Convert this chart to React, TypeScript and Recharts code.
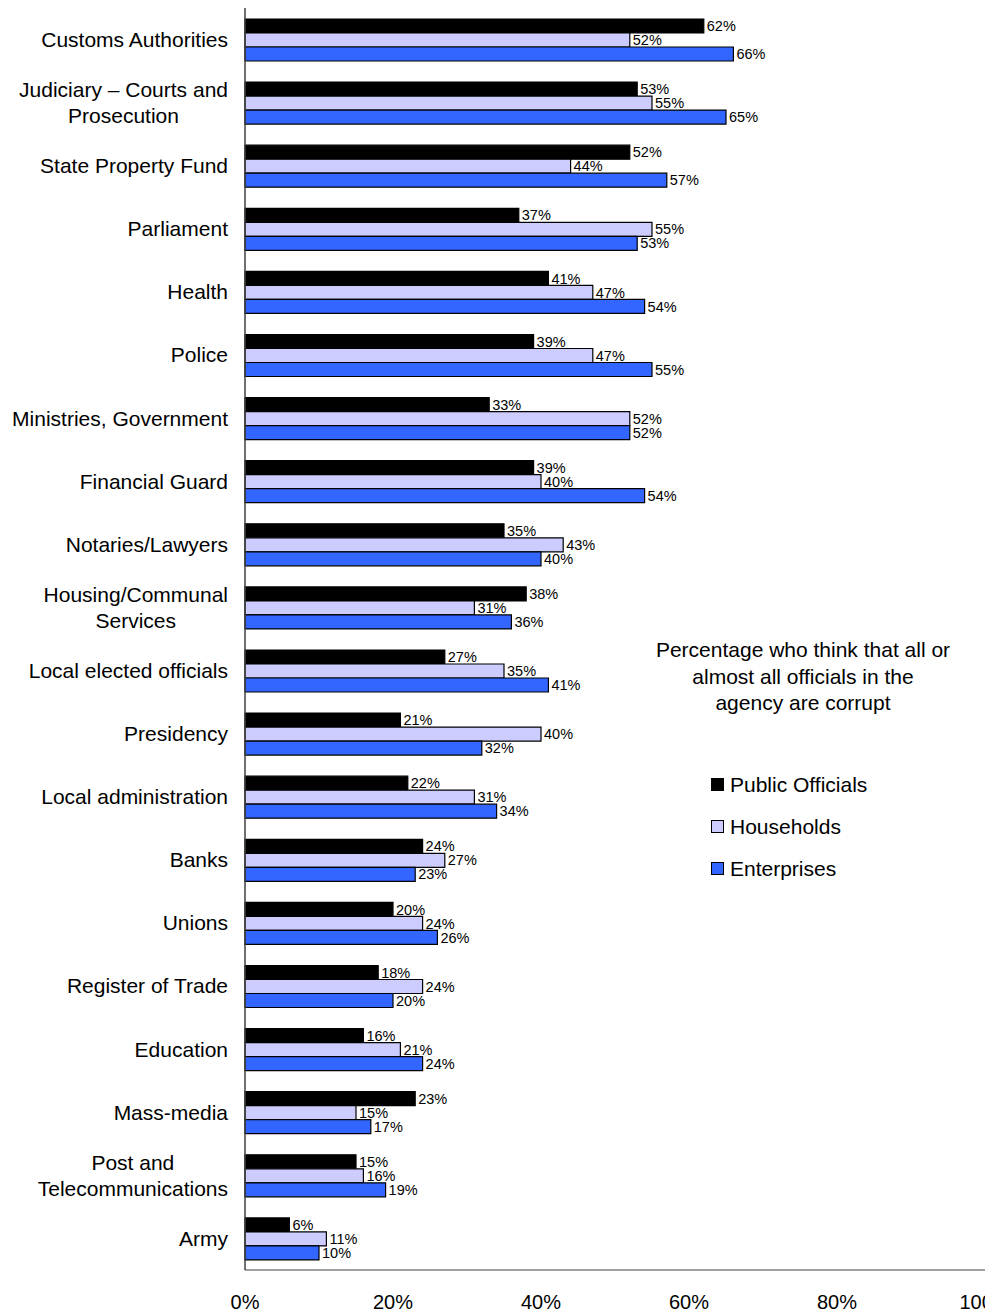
import React from 'react';
import { BarChart, Bar, XAxis, YAxis, Legend, LabelList } from 'recharts';

const categories = [
  'Customs Authorities',
  'Judiciary – Courts and\nProsecution',
  'State Property Fund',
  'Parliament',
  'Health',
  'Police',
  'Ministries, Government',
  'Financial Guard',
  'Notaries/Lawyers',
  'Housing/Communal\nServices',
  'Local elected officials',
  'Presidency',
  'Local administration',
  'Banks',
  'Unions',
  'Register of Trade',
  'Education',
  'Mass-media',
  'Post and\nTelecommunications',
  'Army',
];
const publicOfficials = [62, 53, 52, 37, 41, 39, 33, 39, 35, 38, 27, 21, 22, 24, 20, 18, 16, 23, 15, 6];
const households = [52, 55, 44, 55, 47, 47, 52, 40, 43, 31, 35, 40, 31, 27, 24, 24, 21, 15, 16, 11];
const enterprises = [66, 65, 57, 53, 54, 55, 52, 54, 40, 36, 41, 32, 34, 23, 26, 20, 24, 17, 19, 10];
const xTicks = [0, 20, 40, 60, 80, 100];
const seriesNames = ['Public Officials', 'Households', 'Enterprises'];
const seriesColors = ['#000000', '#CCCCFF', '#3366FF'];
const legendTitle = ['Percentage who think that all or', 'almost all officials in the', 'agency are corrupt'];

const data = categories.map((c, i) => ({
  name: c,
  po: publicOfficials[i],
  hh: households[i],
  en: enterprises[i],
}));

const FONT = '"Liberation Sans", Arial, sans-serif';
let ctx: CanvasRenderingContext2D | null = null;
function measure(t: string, size: number) {
  if (!ctx && typeof document !== 'undefined') {
    ctx = document.createElement('canvas').getContext('2d');
  }
  if (!ctx) return t.length * size * 0.5;
  ctx.font = `${size}px "Liberation Sans"`;
  return ctx.measureText(t).width;
}

const CatTick = (props: any) => {
  const { x, y, payload } = props;
  const lines: string[] = String(payload.value).split('\n');
  const size = 21;
  if (lines.length === 1) {
    return (
      <text x={x} y={y} dy="0.35em" textAnchor="end" fontSize={size} fontFamily={FONT} fill="#000">
        {lines[0]}
      </text>
    );
  }
  const w = Math.max(...lines.map((l) => measure(l, size)));
  const cx = x - w / 2;
  const lh = 26;
  const startY = y - ((lines.length - 1) * lh) / 2;
  return (
    <text textAnchor="middle" fontSize={size} fontFamily={FONT} fill="#000">
      {lines.map((l, i) => (
        <tspan key={i} x={cx} y={startY + i * lh} dy="0.35em">
          {l}
        </tspan>
      ))}
    </text>
  );
};

const LegendContent = () => (
  <div style={{ width: 340, fontFamily: FONT, fontSize: 21, color: '#000' }}>
    <div style={{ textAlign: 'center', lineHeight: '26.5px' }}>
      {legendTitle.map((t, i) => (
        <div key={i}>{t}</div>
      ))}
    </div>
    <div style={{ marginTop: 47, paddingLeft: 78 }}>
      {seriesNames.map((n, i) => (
        <div key={n} style={{ display: 'flex', alignItems: 'center', height: 42 }}>
          <div
            style={{
              width: 13,
              height: 13,
              boxSizing: 'border-box',
              border: '1.5px solid #000',
              background: seriesColors[i],
              marginRight: 6,
            }}
          />
          <span>{n}</span>
        </div>
      ))}
    </div>
  </div>
);

export default function App() {
  return (
    <div style={{ width: 985, height: 1305, overflow: 'hidden' }}>
      <BarChart
        width={985}
        height={1305}
        data={data}
        layout="vertical"
        margin={{ top: 0, right: 8, bottom: 0, left: 0 }}
        barSize={14}
        barGap={0}
      >
        <XAxis
          type="number"
          domain={[0, 100]}
          ticks={xTicks}
          interval={0}
          tickFormatter={(v: number) => `${v}%`}
          tickLine={false}
          tickSize={0}
          tickMargin={25}
          height={43}
          axisLine={{ stroke: '#808080', strokeWidth: 1.5 }}
          tick={{ fontSize: 20, fontFamily: FONT, fill: '#000' }}
        />
        <YAxis
          type="category"
          dataKey="name"
          width={237}
          tickLine={false}
          tickSize={0}
          tickMargin={17}
          interval={0}
          axisLine={{ stroke: '#404040', strokeWidth: 1.5 }}
          tick={<CatTick />}
        />
        <Legend
          layout="horizontal"
          verticalAlign="middle"
          align="center"
          content={<LegendContent />}
          wrapperStyle={{ left: 625, top: 629, width: 340 }}
        />
        {(['po', 'hh', 'en'] as const).map((k, i) => (
          <Bar
            key={k}
            dataKey={k}
            name={seriesNames[i]}
            fill={seriesColors[i]}
            stroke="#000"
            strokeWidth={1.2}
            isAnimationActive={false}
          >
            <LabelList
              dataKey={k}
              position="right"
              offset={3}
              formatter={(v: any) => `${v}%`}
              style={{ fontSize: 14.5, fontFamily: FONT, fill: '#000' }}
            />
          </Bar>
        ))}
      </BarChart>
    </div>
  );
}
